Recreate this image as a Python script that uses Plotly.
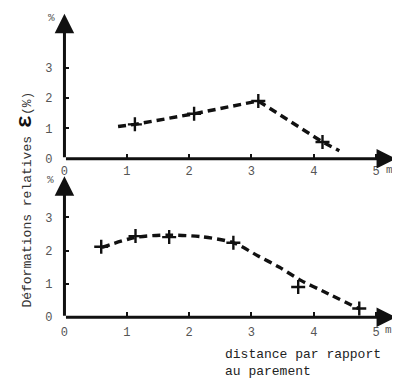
import plotly.graph_objects as go

# ---- data ----
top_line_x = [0.86, 1.13, 2.08, 3.11, 4.14, 4.41]
top_line_y = [1.06, 1.13, 1.48, 1.90, 0.55, 0.26]
top_mark_x = [1.13, 2.08, 3.11, 4.14]
top_mark_y = [1.13, 1.48, 1.90, 0.55]

bot_line_x = [0.60, 1.14, 1.65, 2.20, 2.71, 3.10, 3.45, 3.80, 4.15, 4.72]
bot_line_y = [2.10, 2.40, 2.47, 2.42, 2.24, 1.85, 1.50, 1.10, 0.78, 0.26]
bot_mark_x = [0.59, 1.14, 1.68, 2.71, 3.75, 4.73]
bot_mark_y = [2.12, 2.44, 2.41, 2.24, 0.91, 0.26]

x_ticks = [0, 1, 2, 3, 4, 5]
y_ticks = [0, 1, 2, 3]

# the page body has an 8px margin: size the figure to fill the rest of the window
OFF = 8
W, H = 400 - OFF, 378 - OFF


def px(X):
    return (X - OFF) / W


def py(Y):
    return 1 - (Y - OFF) / H


XMAX = 5.32
TOP_YMAX = 4.77
BOT_YMAX = 4.24

MONO = "Liberation Mono, DejaVu Sans Mono, monospace"
INK = "#111111"
GREY = "#555555"

fig = go.Figure()

line_style = dict(color=INK, width=3.4, dash="8px,5px")
mark_style = dict(symbol="cross-thin", size=10, line=dict(color=INK, width=2.4))

fig.add_trace(go.Scatter(x=top_line_x, y=top_line_y, mode="lines", line=line_style,
                         xaxis="x", yaxis="y", showlegend=False))
fig.add_trace(go.Scatter(x=top_mark_x, y=top_mark_y, mode="markers", marker=mark_style,
                         xaxis="x", yaxis="y", showlegend=False))
fig.add_trace(go.Scatter(x=bot_line_x, y=bot_line_y, mode="lines",
                         line=dict(line_style, shape="spline", smoothing=0.8),
                         xaxis="x2", yaxis="y2", showlegend=False))
fig.add_trace(go.Scatter(x=bot_mark_x, y=bot_mark_y, mode="markers", marker=mark_style,
                         xaxis="x2", yaxis="y2", showlegend=False))

xdom = [px(61), px(396)]
top_dom = [py(162), py(14)]
bot_dom = [py(324), py(180)]

tickfont = dict(family=MONO, size=12, color=GREY)
xcommon = dict(domain=xdom, range=[0, XMAX], tickvals=x_ticks, ticks="inside", ticklen=5,
               tickwidth=1.5, tickcolor=INK, showgrid=False, zeroline=False, showline=False,
               tickfont=tickfont)
ycommon = dict(tickvals=y_ticks, ticks="inside", ticklen=5, tickwidth=1.5, tickcolor=INK,
               showgrid=False, zeroline=False, showline=False, tickfont=tickfont,
               ticklabelstandoff=11)

fig.update_layout(
    width=W, height=H, margin=dict(l=0, r=0, t=0, b=0),
    paper_bgcolor="white", plot_bgcolor="white",
    xaxis=dict(xcommon, anchor="y", ticklabelstandoff=3),
    yaxis=dict(ycommon, domain=top_dom, range=[0, TOP_YMAX], anchor="x"),
    xaxis2=dict(xcommon, anchor="y2", ticklabelstandoff=6),
    yaxis2=dict(ycommon, domain=bot_dom, range=[0, BOT_YMAX], anchor="x2"),
)

# axis arrows
for xr, yr, ymax in (("x", "y", TOP_YMAX), ("x2", "y2", BOT_YMAX)):
    fig.add_annotation(x=XMAX, y=0, ax=0, ay=0, xref=xr, yref=yr, axref=xr, ayref=yr,
                       text="", showarrow=True, arrowhead=2, arrowsize=1.3,
                       arrowwidth=3, arrowcolor=INK, standoff=0, startstandoff=0)
    fig.add_annotation(x=0, y=ymax, ax=0, ay=0, xref=xr, yref=yr, axref=xr, ayref=yr,
                       text="", showarrow=True, arrowhead=2, arrowsize=1.3,
                       arrowwidth=3, arrowcolor=INK, standoff=0, startstandoff=0)


def label(X, Y, text, font, **kw):
    fig.add_annotation(x=px(X), y=py(Y), xref="paper", yref="paper", text=text,
                       showarrow=False, font=font, xanchor=kw.pop("xanchor", "center"),
                       yanchor=kw.pop("yanchor", "middle"), **kw)


# unit labels
small = dict(family=MONO, size=11, color=GREY)
label(48, 18, "%", small)
label(47, 184, "%", small)
label(389, 174, "m", small)
label(388, 337, "m", small)

# axis titles
label(22, 204,
      "Déformations relatives <b><span style='font-size:22px;color:#111'>ε</span></b>(%)",
      dict(family=MONO, size=13, color="#333333"), textangle=-90)
label(221, 352, "distance par rapport<br>au parement",
      dict(family=MONO, size=13, color="#222222"), xanchor="left", yanchor="top",
      align="left")

fig.write_html("out.html")
